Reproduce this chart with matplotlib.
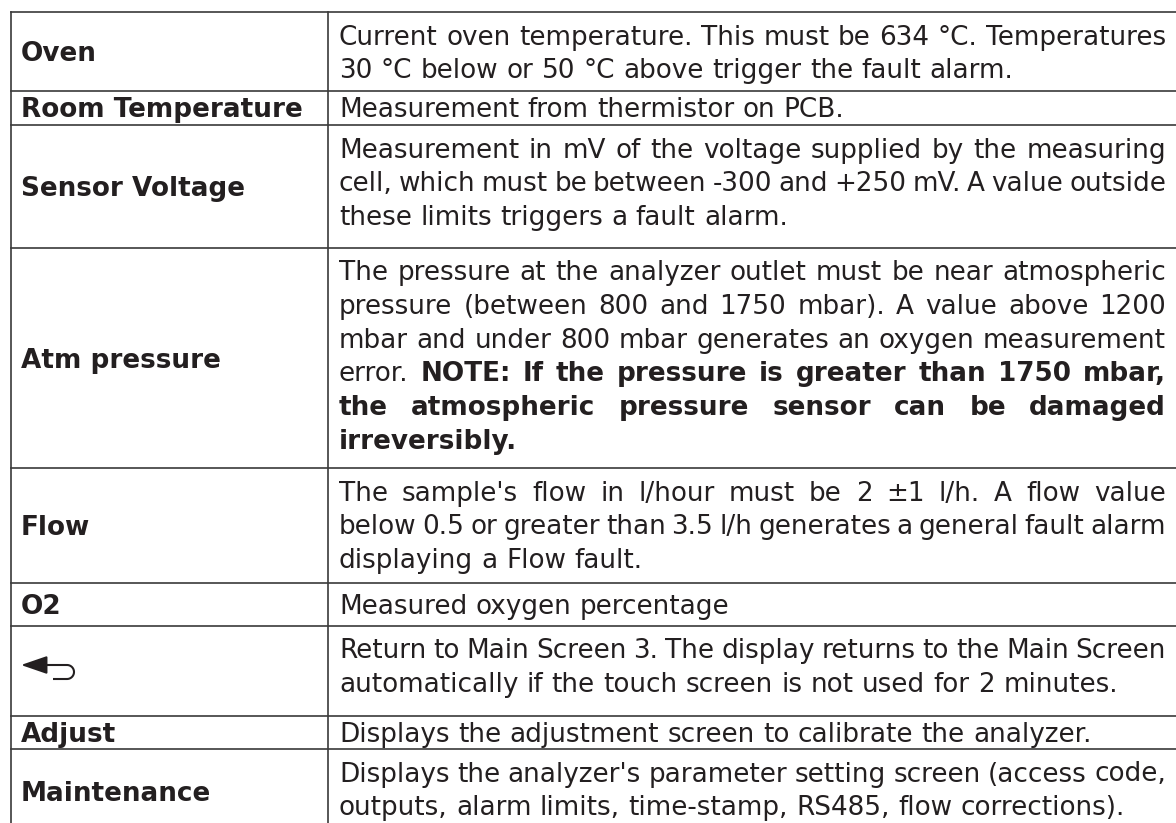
import numpy as np
import matplotlib
matplotlib.use("Agg")
import matplotlib.pyplot as plt
from matplotlib.patches import FancyArrowPatch

W, H = 1176, 823
FONT = dict(family="DejaVu Sans")
INK = "#231f20"
RULE = "#3a3a3a"

# table content: left labels (None = return-arrow icon) and description lines
# words after "|" in a line are bold
labels = ["Oven", "Room Temperature", "Sensor Voltage", "Atm pressure", "Flow",
          "O2", None, "Adjust", "Maintenance"]
desc = [
    ["Current oven temperature. This must be 634 °C. Temperatures",
     "30 °C below or 50 °C above trigger the fault alarm."],
    ["Measurement from thermistor on PCB."],
    ["Measurement in mV of the voltage supplied by the measuring",
     "cell, which must be between -300 and +250 mV. A value outside",
     "these limits triggers a fault alarm."],
    ["The pressure at the analyzer outlet must be near atmospheric",
     "pressure (between 800 and 1750 mbar). A value above 1200",
     "mbar and under 800 mbar generates an oxygen measurement",
     "error. |NOTE: If the pressure is greater than 1750 mbar,",
     "|the atmospheric pressure sensor can be damaged",
     "|irreversibly."],
    ["The sample's flow in l/hour must be 2 \u00b11 l/h. A flow value",
     "below 0.5 or greater than 3.5 l/h generates a general fault alarm",
     "displaying a Flow fault."],
    ["Measured oxygen percentage"],
    ["Return to Main Screen 3. The display returns to the Main Screen",
     "automatically if the touch screen is not used for 2 minutes."],
    ["Displays the adjustment screen to calibrate the analyzer."],
    ["Displays the analyzer's parameter setting screen (access code,",
     "outputs, alarm limits, time-stamp, RS485, flow corrections)."],
]

# layout (pixels)
ROW_Y = [12, 90.5, 125, 248, 468, 583, 626, 716, 749, 840]
X_LEFT, X_SPLIT = 11, 328
X_LABEL, X_DESC, X_RIGHT = 21, 339, 1166
LINE_H = 33.6

fig = plt.figure(figsize=(W / 100, H / 100), dpi=100)
ax = fig.add_axes([0, 0, 1, 1])
ax.set_xlim(0, W); ax.set_ylim(H, 0); ax.axis("off")
rend = fig.canvas.get_renderer()


def width(s, size, bold=False):
    t = ax.text(0, 0, s, fontsize=size, fontweight="bold" if bold else "normal", **FONT)
    w = t.get_window_extent(rend).width
    t.remove()
    return w


def words_of(line):
    norm, _, bold = line.partition("|")
    return [(w, False) for w in norm.split()] + [(w, True) for w in bold.split()]


# font size from a known unjustified line, then shrink so justified lines keep some word space
size = 10 * (1126 - X_DESC) / width(desc[7][0], 10)
sp10 = width("x x", 10) - width("xx", 10)
for lines in desc:
    for ln in lines[:-1]:
        ws = words_of(ln)
        nat = sum(width(w, 10, b) for w, b in ws) + 0.7 * sp10 * (len(ws) - 1)
        size = min(size, 10 * (X_RIGHT - X_DESC) / nat)
cap = 0.73 * size * 100 / 72


def draw_line(line, y, justify):
    ws = words_of(line)
    wid = [width(w, size, b) for w, b in ws]
    sp = width("x x", size) - width("xx", size)
    if justify and len(ws) > 1:
        sp = (X_RIGHT - X_DESC - sum(wid)) / (len(ws) - 1)
    x = X_DESC
    for (w, b), ww in zip(ws, wid):
        ax.text(x, y, w, fontsize=size, color=INK, va="baseline",
                fontweight="bold" if b else "normal", **FONT)
        x += ww + sp


for i, (lab, lines) in enumerate(zip(labels, desc)):
    top, bot = ROW_Y[i], ROW_Y[i + 1]
    mid = (top + bot) / 2 if i < len(labels) - 1 else top + 42
    if lab is not None:
        ax.text(X_LABEL, mid + cap / 2, lab, fontsize=size, color=INK,
                fontweight="bold", va="baseline", **FONT)
    else:
        # return arrow icon
        yc = mid - 6
        ax.add_patch(FancyArrowPatch((67, yc), (21, yc), arrowstyle="-|>,head_length=1.6,head_width=0.55",
                                     mutation_scale=10, lw=1.5, color=INK, shrinkA=0, shrinkB=0))
        th = np.linspace(-np.pi / 2, np.pi / 2, 30)
        hx = 67 + 7 * np.cos(th); hy = yc + 7 + 7 * np.sin(th)
        ax.plot(np.r_[hx, 53], np.r_[hy, yc + 14], color=INK, lw=1.5, solid_capstyle="butt")
    if len(lines) == 1:
        y0 = mid + cap / 2
    else:
        y0 = top + 32.5
    for j, ln in enumerate(lines):
        draw_line(ln, y0 + j * LINE_H, justify=j < len(lines) - 1)

# rules
for y in ROW_Y[:-1]:
    ax.plot([X_LEFT, W + 5], [y, y], color=RULE, lw=1.2)
for x in (X_LEFT, X_SPLIT):
    ax.plot([x, x], [ROW_Y[0], H + 5], color=RULE, lw=1.2)

fig.savefig("out.png", dpi=100)
